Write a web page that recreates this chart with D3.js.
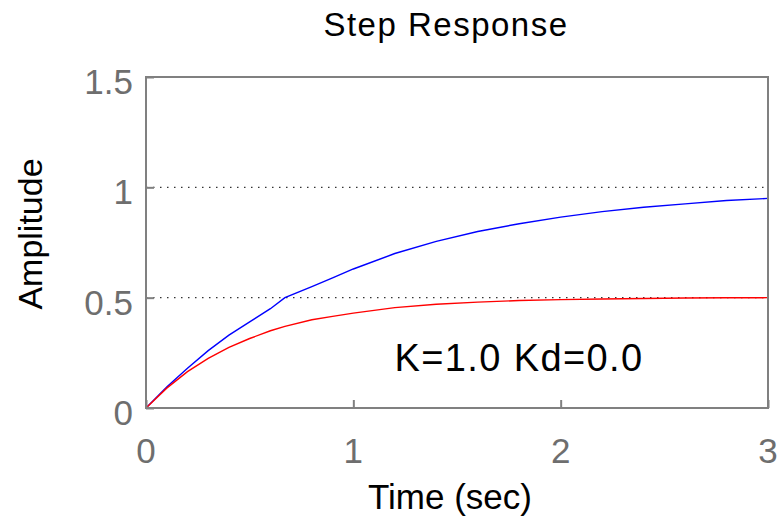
<!DOCTYPE html>
<html>
<head>
<meta charset="utf-8">
<script src="https://cdn.jsdelivr.net/npm/d3@7"></script>
<style>
  body { margin: 0; background: #fff; }
  text { font-family: "Liberation Sans", Arial, sans-serif; }
</style>
</head>
<body>
<svg id="vis" width="778" height="526"></svg>
<script>
// values
const times = [0, 0.1, 0.2, 0.3, 0.4, 0.5, 0.6, 0.67, 0.8, 0.9, 1.0, 1.2, 1.4, 1.6, 1.8, 2.0, 2.2, 2.4, 2.6, 2.8, 3.0];
const openLoop = [0, 0.095, 0.18, 0.26, 0.33, 0.39, 0.45, 0.50, 0.55, 0.59, 0.63, 0.70, 0.755, 0.80, 0.835, 0.865, 0.89, 0.91, 0.925, 0.94, 0.95];
const closedLoop = [0, 0.09, 0.165, 0.225, 0.275, 0.315, 0.35, 0.37, 0.40, 0.415, 0.43, 0.455, 0.47, 0.48, 0.487, 0.491, 0.494, 0.496, 0.4985, 0.4995, 0.5];
const xTicks = [0, 1, 2, 3];
const yTicks = [0, 0.5, 1, 1.5];
const refLevels = [1, 0.5];

const svg = d3.select('#vis');
const margin = {left: 146, right: 10, top: 77, bottom: 118};
const width = 778 - margin.left - margin.right;
const height = 526 - margin.top - margin.bottom;

const x = d3.scaleLinear().domain([0, 3]).range([margin.left, margin.left + width]);
const y = d3.scaleLinear().domain([0, 1.5]).range([margin.top + height, margin.top]);

const axisColor = '#808080';
const labelColor = '#6e6e6e';

// reference dotted lines
svg.selectAll('line.ref').data(refLevels)
  .enter().append('line')
    .classed('ref', true)
    .attr('x1', x(0)).attr('x2', x(3))
    .attr('y1', d => y(d)).attr('y2', d => y(d))
    .attr('stroke', '#333')
    .attr('stroke-width', 1.3)
    .attr('stroke-dasharray', '1.5,5.5');

const line = d3.line()
  .x(d => x(d[0]))
  .y(d => y(d[1]));

const series = [
  {color: '#0000ff', values: openLoop},
  {color: '#ff0000', values: closedLoop}
];

svg.selectAll('path.series').data(series)
  .enter().append('path')
    .classed('series', true)
    .attr('fill', 'none')
    .attr('stroke', d => d.color)
    .attr('stroke-width', 1.4)
    .attr('d', d => line(times.map((t, i) => [t, d.values[i]])));

// frame
svg.append('rect')
  .attr('x', x(0)).attr('y', y(1.5))
  .attr('width', x(3) - x(0)).attr('height', y(0) - y(1.5))
  .attr('fill', 'none')
  .attr('stroke', axisColor)
  .attr('stroke-width', 2);

// inward ticks
const xAxis = d3.axisTop(x).tickValues(xTicks).tickSize(8).tickFormat('');
svg.append('g')
  .attr('transform', 'translate(0,' + y(0) + ')')
  .call(xAxis)
  .call(g => g.select('.domain').remove())
  .call(g => g.selectAll('line').attr('stroke', axisColor).attr('stroke-width', 2));

const yAxis = d3.axisRight(y).tickValues(yTicks).tickSize(8).tickFormat('');
svg.append('g')
  .attr('transform', 'translate(' + x(0) + ',0)')
  .call(yAxis)
  .call(g => g.select('.domain').remove())
  .call(g => g.selectAll('line').attr('stroke', axisColor).attr('stroke-width', 2));

// tick labels
svg.selectAll('text.xlab').data(xTicks)
  .enter().append('text')
    .classed('xlab', true)
    .attr('x', d => x(d))
    .attr('y', y(0) + 55)
    .attr('text-anchor', 'middle')
    .attr('font-size', 35)
    .attr('fill', labelColor)
    .text(d => d);

svg.selectAll('text.ylab').data(yTicks)
  .enter().append('text')
    .classed('ylab', true)
    .attr('x', x(0) - 13)
    .attr('y', d => y(d) + 17)
    .attr('text-anchor', 'end')
    .attr('font-size', 35)
    .attr('fill', labelColor)
    .text(d => d);

svg.append('text')
  .attr('x', 446).attr('y', 36)
  .attr('text-anchor', 'middle')
  .attr('font-size', 33)
  .attr('letter-spacing', 1.5)
  .attr('fill', '#000')
  .text('Step Response');

svg.append('text')
  .attr('x', 450).attr('y', 509)
  .attr('text-anchor', 'middle')
  .attr('font-size', 35)
  .attr('fill', '#000')
  .text('Time (sec)');

svg.append('text')
  .attr('transform', 'translate(42,234) rotate(-90)')
  .attr('text-anchor', 'middle')
  .attr('font-size', 34)
  .attr('fill', '#000')
  .text('Amplitude');

svg.append('text')
  .attr('x', 519).attr('y', 371)
  .attr('text-anchor', 'middle')
  .attr('font-size', 38)
  .attr('letter-spacing', 1.4)
  .attr('fill', '#000')
  .text('K=1.0 Kd=0.0');
</script>
</body>
</html>
